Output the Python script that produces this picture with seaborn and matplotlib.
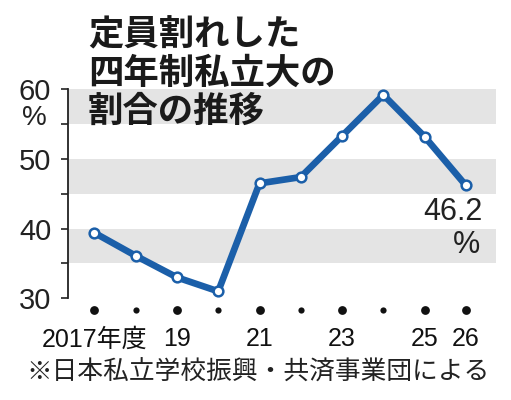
import matplotlib
matplotlib.use("Agg")
import matplotlib.pyplot as plt
import seaborn as sns
import pandas as pd
from matplotlib.ticker import MultipleLocator

years = [2017, 2018, 2019, 2020, 2021, 2022, 2023, 2024, 2025, 2026]
values = [39.4, 36.1, 33.0, 31.0, 46.5, 47.4, 53.3, 59.2, 53.2, 46.2]
tick_years = [2017, 2019, 2021, 2023, 2025, 2026]
tick_labels = ["2017年度", "19", "21", "23", "25", "26"]
y_ticks = [30, 40, 50, 60]
bands = [(35, 40), (45, 50), (55, 60)]
title = "定員割れした\n四年制私立大の\n割合の推移"
source = "※日本私立学校振興・共済事業団による"
last_label = "46.2"

sns.set_theme(style="white")
plt.rcParams['font.family'] = ['Liberation Sans', 'Noto Sans CJK JP', 'DejaVu Sans']

df = pd.DataFrame({"year": years, "value": values})

W, H = 511, 400
fig = plt.figure(figsize=(W / 100, H / 100), dpi=100)
ax = fig.add_axes([68 / W, (H - 298.3) / H, (496 - 68) / W, (298.3 - 89.3) / H])

blue = "#1b5fa9"
for lo, hi in bands:
    ax.axhspan(lo, hi, color="#e4e4e4", lw=0, zorder=0)

sns.lineplot(data=df, x="year", y="value", ax=ax, color=blue, lw=4.8,
             marker="o", markersize=7, markerfacecolor="white",
             markeredgecolor=blue, markeredgewidth=1.8, clip_on=False, zorder=3)

ax.set_xlim(2016.36, 2026.73)
ax.set_ylim(30, 60)

# dots under the x positions
trans = ax.get_xaxis_transform()
big = [y for y in years if y in tick_years]
small = [y for y in years if y not in tick_years]
ax.scatter(big, [-0.056] * len(big), s=40, color="#111111", transform=trans, clip_on=False, lw=0)
ax.scatter(small, [-0.056] * len(small), s=20, color="#111111", transform=trans, clip_on=False, lw=0)

ax.set_xticks(tick_years)
ax.set_xticklabels(tick_labels, fontsize=18, color="#111111")
ax.tick_params(axis="x", length=0, pad=21)

ax.set_yticks(y_ticks)
ax.set_yticklabels([str(v) for v in y_ticks], fontsize=21, color="#222222")
ax.yaxis.set_minor_locator(MultipleLocator(5))
ax.tick_params(axis="y", which="both", direction="out", length=5, width=1.2,
               color="#222222", left=True, pad=7)

for s in ["top", "right", "bottom"]:
    ax.spines[s].set_visible(False)
ax.spines["left"].set_color("#222222")
ax.spines["left"].set_linewidth(1.3)
ax.set_xlabel("")
ax.set_ylabel("")

fig.text(34 / W, 1 - 118 / H, "%", fontsize=20, ha="center", va="center", color="#222222")
fig.text(482 / W, 1 - 212 / H, last_label, fontsize=22, ha="right", va="center", color="#222222")
fig.text(466 / W, 1 - 245 / H, "%", fontsize=22, ha="center", va="center", color="#222222")

fig.text(88 / W, 1 - 17 / H, title, fontsize=25.5, fontweight="bold", ha="left", va="top",
         linespacing=1.12, color="#1a1a1a", family=['Noto Sans CJK JP'])
fig.text(258 / W, 1 - 373 / H, source, fontsize=18.5, ha="center", va="center",
         color="#222222", family=['Noto Sans CJK JP'])

fig.savefig("out.png", dpi=100, facecolor="white")
